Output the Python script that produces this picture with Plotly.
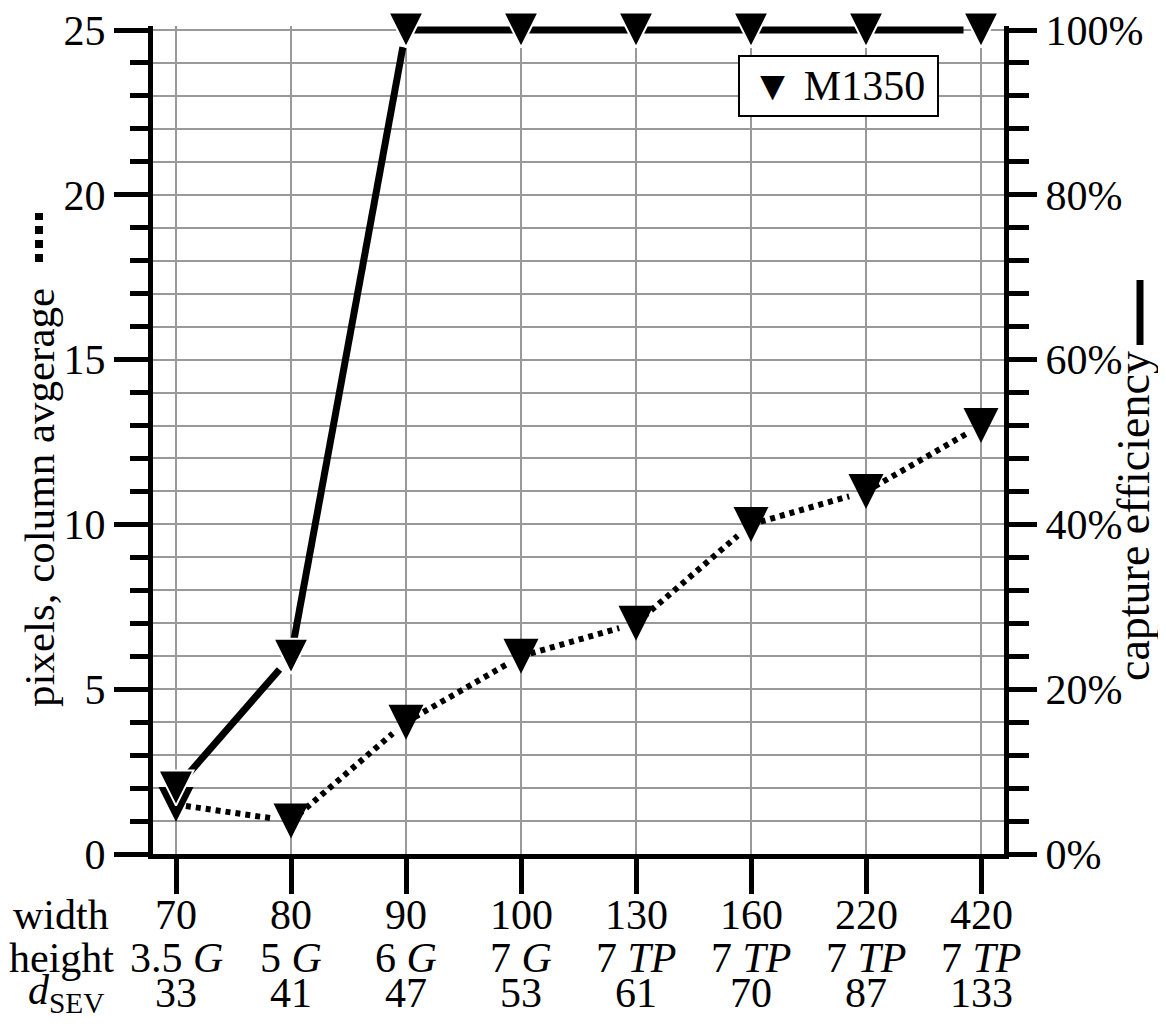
import plotly.graph_objects as go

# ---- data ----
widths = ["70", "80", "90", "100", "130", "160", "220", "420"]
height_vals = ["3.5", "5", "6", "7", "7", "7", "7", "7"]
height_units = ["G", "G", "G", "G", "TP", "TP", "TP", "TP"]
d_sev = ["33", "41", "47", "53", "61", "70", "87", "133"]
pixels_avg = [1.5, 1.0, 4.0, 6.0, 7.0, 10.0, 11.0, 13.0]
capture_eff = [8, 24, 100, 100, 100, 100, 100, 100]
left_ticks = [0, 5, 10, 15, 20, 25]
right_ticks = [0, 20, 40, 60, 80, 100]
right_ticktext = ["0%", "20%", "40%", "60%", "80%", "100%"]
row_names = ["width", "height", "<i>d</i><sub>SEV</sub>"]
legend_name = "M1350"
left_title = "pixels, column avgerage"
right_title = "capture efficiency"

FONT = "Liberation Serif, Times New Roman, serif"
FS = 42

OFF = 8  # default page (body) margin
W, H = 1166 - 2 * OFF, 1029 - 2 * OFF
# plot area in page pixels: x 153..1004, y 26..854
L = 153 - OFF
R = W - (1004 - OFF)
T = 26 - OFF
B = H - (854 - OFF)
PW, PH = W - L - R, H - T - B


def px_x(p):  # page pixel -> paper
    return (p - OFF - L) / PW


def px_y(p):
    return (H - B - (p - OFF)) / PH


ytop = 25 + 4 / 32.96

fig = go.Figure()

fig.add_trace(go.Scatter(
    x=widths, y=pixels_avg, yaxis="y", mode="lines+markers",
    line=dict(color="black", width=6, dash="5px,5px"),
    marker=dict(symbol="arrow-down", size=35, standoff=17.5, color="black",
                line=dict(width=0)),
    cliponaxis=False, showlegend=False, name="pixels"))

fig.add_trace(go.Scatter(
    x=widths, y=capture_eff, yaxis="y2", mode="lines+markers",
    line=dict(color="black", width=7),
    marker=dict(symbol="arrow-down", size=35, standoff=17.5, color="black",
                line=dict(color="white", width=2)),
    cliponaxis=False, showlegend=False, name=legend_name))

annotations = []
row_y = [915, 958, 993]
for i, w in enumerate(widths):
    texts = [w, f"{height_vals[i]} <i>{height_units[i]}</i>", d_sev[i]]
    for r, t in enumerate(texts):
        annotations.append(dict(
            x=i, xref="x", y=px_y(row_y[r]), yref="paper", text=t,
            showarrow=False, xanchor="center", yanchor="middle",
            font=dict(family=FONT, size=FS, color="black")))
row_x = [61, 61, 66]
for r, t in enumerate(row_names):
    annotations.append(dict(
        x=px_x(row_x[r]), xref="paper", y=px_y(row_y[r]), yref="paper", text=t,
        showarrow=False, xanchor="center", yanchor="middle",
        font=dict(family=FONT, size=FS, color="black")))

annotations.append(dict(
    x=px_x(39), xref="paper", y=px_y(498), yref="paper", text=left_title,
    textangle=-90, showarrow=False, xanchor="center", yanchor="middle",
    font=dict(family=FONT, size=43, color="black")))
annotations.append(dict(
    x=px_x(1134), xref="paper", y=px_y(516), yref="paper", text=right_title,
    textangle=-90, showarrow=False, xanchor="center", yanchor="middle",
    font=dict(family=FONT, size=46, color="black")))

annotations.append(dict(
    x=px_x(838), xref="paper", y=px_y(86), yref="paper",
    text="▼ " + legend_name, showarrow=False, xanchor="center", yanchor="middle",
    width=193, height=54, borderpad=2, borderwidth=2, bordercolor="black",
    bgcolor="white", align="center",
    font=dict(family=FONT, size=FS, color="black")))

shapes = [
    dict(type="line", xref="paper", yref="paper",
         x0=px_x(39), x1=px_x(39), y0=px_y(262), y1=px_y(213),
         line=dict(color="black", width=8, dash="8px,6px")),
    dict(type="line", xref="paper", yref="paper",
         x0=px_x(1140), x1=px_x(1140), y0=px_y(345), y1=px_y(280),
         line=dict(color="black", width=7)),
]

fig.update_layout(
    template="none",
    width=W, height=H,
    margin=dict(l=L, r=R, t=T, b=B, pad=0),
    paper_bgcolor="white", plot_bgcolor="white",
    font=dict(family=FONT, size=FS, color="black"),
    showlegend=False,
    xaxis=dict(
        type="category", categoryorder="array", categoryarray=widths,
        range=[-0.2, 7.2], showline=True, linewidth=5, linecolor="black",
        ticks="outside", ticklen=35, tickwidth=5, tickcolor="black",
        showticklabels=False, showgrid=True, gridcolor="#999999", gridwidth=2,
        zeroline=False, automargin=False),
    yaxis=dict(
        range=[0, ytop], tickvals=left_ticks, showline=True, linewidth=5,
        linecolor="black", ticks="outside", ticklen=34, tickwidth=5,
        tickcolor="black", tickfont=dict(family=FONT, size=FS),
        ticklabeloverflow="allow",
        showgrid=True, gridcolor="#999999", gridwidth=2, zeroline=False,
        minor=dict(dtick=1, tick0=0, ticks="outside", ticklen=18, tickwidth=5,
                   tickcolor="black", showgrid=True, gridcolor="#999999",
                   gridwidth=2),
        automargin=False),
    yaxis2=dict(
        range=[0, ytop * 4], tickvals=right_ticks, ticktext=right_ticktext,
        overlaying="y", side="right", showline=True, linewidth=5,
        linecolor="black", ticks="outside", ticklen=28, tickwidth=5,
        tickcolor="black", tickfont=dict(family=FONT, size=FS),
        ticklabeloverflow="allow",
        showgrid=False, zeroline=False,
        minor=dict(dtick=4, tick0=0, ticks="outside", ticklen=20, tickwidth=5,
                   tickcolor="black", showgrid=False),
        automargin=False),
    annotations=annotations,
    shapes=shapes,
)

fig.write_html("out.html")
